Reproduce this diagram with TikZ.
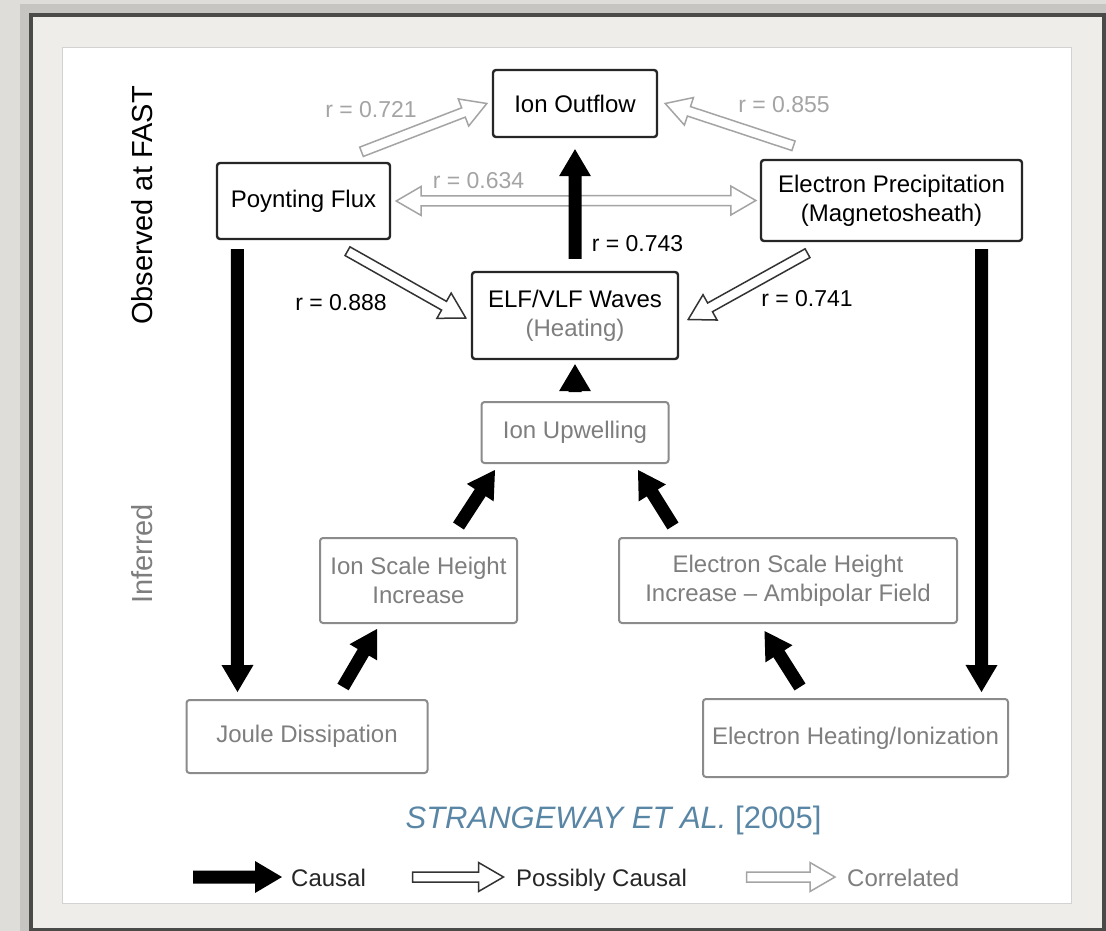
\documentclass[tikz,border=0pt]{standalone}
\usepackage{fontspec}
\setmainfont{Liberation Sans}
\usepackage{tikz}
\usetikzlibrary{calc}
\usepackage{xcolor}
\definecolor{fastbg}{HTML}{DEDDD9}
\definecolor{fastbevel}{HTML}{C6C5C1}
\definecolor{fastframe}{HTML}{4A4A48}
\definecolor{fastmatte}{HTML}{EEEDEA}
\definecolor{fastgray}{HTML}{7E7E7E}
\definecolor{fastlight}{HTML}{A4A4A4}
\definecolor{fastblue}{HTML}{5A86A6}

\tikzset{
  obsbox/.style={draw=black!85, line width=2.4pt, rounded corners=3pt, fill=white,
    align=center, inner sep=0pt, font=\fontsize{24}{29}\selectfont},
  infbox/.style={obsbox, draw=fastgray!90, line width=2pt, text=fastgray},
  rlabel/.style={font=\fontsize{23}{27}\selectfont, inner sep=0pt},
  legend/.style={font=\fontsize{24}{28}\selectfont, inner sep=0pt},
  blockarrow/.style n args={3}{to path={
      ($(\tikztostart)!#1!90:(\tikztotarget)$)
      -- ($(\tikztotarget)!#3!(\tikztostart)!#1!90:(\tikztotarget)$)
      -- ($(\tikztotarget)!#3!(\tikztostart)!#2!90:(\tikztotarget)$)
      -- (\tikztotarget)
      -- ($(\tikztotarget)!#3!(\tikztostart)!#2!-90:(\tikztotarget)$)
      -- ($(\tikztotarget)!#3!(\tikztostart)!#1!-90:(\tikztotarget)$)
      -- ($(\tikztostart)!#1!-90:(\tikztotarget)$) -- cycle}},
  blockarrowtwo/.style n args={3}{to path={
      (\tikztostart)
      -- ($(\tikztostart)!#3!(\tikztotarget)!#2!90:(\tikztotarget)$)
      -- ($(\tikztostart)!#3!(\tikztotarget)!#1!90:(\tikztotarget)$)
      -- ($(\tikztotarget)!#3!(\tikztostart)!#1!90:(\tikztotarget)$)
      -- ($(\tikztotarget)!#3!(\tikztostart)!#2!90:(\tikztotarget)$)
      -- (\tikztotarget)
      -- ($(\tikztotarget)!#3!(\tikztostart)!#2!-90:(\tikztotarget)$)
      -- ($(\tikztotarget)!#3!(\tikztostart)!#1!-90:(\tikztotarget)$)
      -- ($(\tikztostart)!#3!(\tikztotarget)!#1!-90:(\tikztotarget)$)
      -- ($(\tikztostart)!#3!(\tikztotarget)!#2!-90:(\tikztotarget)$) -- cycle}},
  causal/.style={blockarrow={6.5pt}{16pt}{27pt}, fill=black, draw=none},
  possible/.style={blockarrow={5pt}{14.5pt}{25pt}, fill=white, draw=black!80,
    line width=1.5pt, line join=miter},
  correl/.style={blockarrow={5pt}{14.5pt}{25pt}, fill=white, draw=fastlight,
    line width=1.5pt, line join=miter},
  correltwo/.style={blockarrowtwo={5pt}{14.5pt}{25pt}, fill=white, draw=fastlight,
    line width=1.5pt, line join=miter},
}

\begin{document}
\begin{tikzpicture}[x=1pt, y=-1pt]
\useasboundingbox (0,0) rectangle (1106,931);
\fill[fastbg] (0,0) rectangle (1106,931);
\fill[fastbevel] (20,4) rectangle (1106,931);
\draw[fastframe, line width=4pt, fill=fastmatte] (30.5,15) rectangle (1104,929.5);
\draw[gray!35, line width=1pt, fill=white] (62.5,48) rectangle (1071,903);

\node[rotate=90, anchor=base, inner sep=0pt, font=\fontsize{29}{34}\selectfont] (obs) at (152,205.5) {Observed at FAST};
\node[rotate=90, anchor=base, inner sep=0pt, font=\fontsize{29}{34}\selectfont, text=fastgray] (inf) at (152,554) {Inferred};

\node[obsbox, minimum width=164pt, minimum height=67pt] (ion) at (575,103.5) {Ion Outflow};
\node[obsbox, minimum width=173pt, minimum height=76pt] (pflux) at (303.5,201) {Poynting Flux};
\node[obsbox, minimum width=261pt, minimum height=81pt] (eprec) at (891.5,200.5) {Electron Precipitation\\(Magnetosheath)};
\node[obsbox, minimum width=206pt, minimum height=87pt] (waves) at (575,315.5) {ELF/VLF Waves\\\textcolor{fastgray}{(Heating)}};
\node[infbox, minimum width=187pt, minimum height=61pt] (upwell) at (575,432.5) {Ion Upwelling};
\node[infbox, minimum width=197pt, minimum height=85pt] (ionsh) at (418.5,580.5) {Ion Scale Height\\Increase};
\node[infbox, minimum width=338pt, minimum height=85pt] (elsh) at (788,580.5) {Electron Scale Height\\Increase – Ambipolar Field};
\node[infbox, minimum width=241pt, minimum height=73pt] (joule) at (307,736.5) {Joule Dissipation};
\node[infbox, minimum width=305pt, minimum height=78pt] (eheat) at (855.5,738) {Electron Heating/Ionization};

\draw[correl] ([xshift=58pt,yshift=10pt]pflux.north) to ([xshift=-5pt]ion.west);
\draw[correl] ([xshift=-98pt,yshift=13pt]eprec.north) to ([xshift=7pt]ion.east);
\draw[correltwo] ([xshift=5pt]pflux.east) to ([xshift=-4pt]eprec.west);
\draw[possible] ([xshift=44pt,yshift=-11pt]pflux.south) to ([xshift=-5pt,yshift=-2.5pt]waves.west);
\draw[possible] ([xshift=-84pt,yshift=-11pt]eprec.south) to ([xshift=9pt,yshift=-4pt]waves.east);
\draw[causal] ([yshift=12pt]waves.north) to ([yshift=-11pt]ion.south);
\draw[causal] ([yshift=9pt]upwell.north) to ([yshift=-4pt]waves.south);
\draw[causal] ([xshift=40pt,yshift=11pt]ionsh.north) to ([xshift=14.5pt,yshift=-6pt]upwell.south west);
\draw[causal] ([xshift=-115pt,yshift=11pt]elsh.north) to ([xshift=-31.5pt,yshift=-6pt]upwell.south east);
\draw[causal] ([xshift=36pt,yshift=12pt]joule.north) to ([xshift=58pt,yshift=-5pt]ionsh.south west);
\draw[causal] ([xshift=-55.5pt,yshift=11pt]eheat.north) to ([xshift=-23.5pt,yshift=-7pt]elsh.south);
\draw[causal] ([xshift=21.5pt,yshift=-9pt]pflux.south west) to ([xshift=52pt,yshift=7pt]joule.north west);
\draw[causal] ([xshift=-41.5pt,yshift=-7pt]eprec.south east) to ([xshift=-27.5pt,yshift=6pt]eheat.north east);

\node[rlabel, text=fastlight, anchor=base] (r721) at (371,118) {r = 0.721};
\node[rlabel, text=fastlight, anchor=base] (r855) at (784,113) {r = 0.855};
\node[rlabel, text=fastlight, anchor=base] (r634) at (478.5,188) {r = 0.634};
\node[rlabel, anchor=base] (r743) at (637.5,251) {r = 0.743};
\node[rlabel, anchor=base] (r888) at (341,310) {r = 0.888};
\node[rlabel, anchor=base] (r741) at (807,306) {r = 0.741};

\node[anchor=base, inner sep=0pt, text=fastblue, font=\fontsize{31}{36}\selectfont] (cite) at (613.5,828) {\textit{STRANGEWAY ET AL.} [2005]};

\coordinate (leg1a) at (193,877);
\coordinate (leg1b) at (282,877);
\coordinate (leg2a) at (412.5,877);
\coordinate (leg2b) at (503.5,877);
\coordinate (leg3a) at (746.5,877);
\coordinate (leg3b) at (835,877);
\draw[causal] (leg1a) to (leg1b);
\draw[possible] (leg2a) to (leg2b);
\draw[correl] (leg3a) to (leg3b);
\node[legend, anchor=base west, text=black!85] (leg1) at (291,886) {Causal};
\node[legend, anchor=base west, text=black!85] (leg2) at (516,886) {Possibly Causal};
\node[legend, anchor=base west, text=fastgray] (leg3) at (847,886) {Correlated};
\end{tikzpicture}
\end{document}
